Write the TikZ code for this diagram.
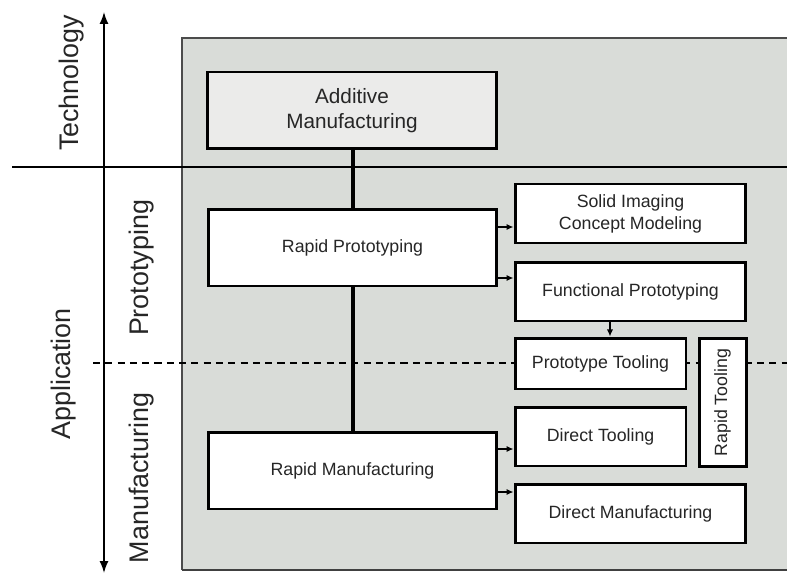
\documentclass[tikz,border=0pt]{standalone}
\usepackage{fontspec}
\setmainfont{Liberation Sans}
\usetikzlibrary{arrows.meta}
\definecolor{panelgrey}{HTML}{D9DCD8}
\definecolor{amgrey}{HTML}{EBEBEA}

\begin{document}
\begin{tikzpicture}[x=0.02cm, y=-0.02cm, >=Latex,
		box/.style={draw, line width=1.7pt, fill=white, inner sep=0pt, align=center, text=black!85, font=\fontsize{10.1}{12.5}\selectfont},
		axislabel/.style={rotate=90, inner sep=0pt, text=black!85, font=\fontsize{15.3}{18}\selectfont},
		link/.style={-{Latex[length=4pt,width=3.6pt]}, line width=0.85pt}]
		\useasboundingbox (0,0) rectangle (787,574);
		% background panel and axes
		\fill[panelgrey] (182,38) rectangle (800,570);
		\draw[gray!60!black, line width=0.9pt] (800,38) -- (182,38) -- (182,570);
		\draw[black!75, line width=1.7pt] (182,570) -- (800,570);
		\draw[line width=0.85pt] (12,167) -- (787,167);
		\draw[dashed, line width=0.7pt, dash pattern=on 4pt off 3pt] (93,363) -- (787,363);
		\draw[<->, line width=0.85pt] (104,12) -- (104,573);
		\node[axislabel] (tech) at (72,83) {Technology};
		\node[axislabel] (appl) at (64,374) {Application};
		\node[axislabel] (proto) at (142,268) {Prototyping};
		\node[axislabel] (manu) at (142,478) {Manufacturing};
		% boxes
		\node[box, fill=amgrey, font=\fontsize{11.8}{14.2}\selectfont, minimum width=5.8cm, minimum height=1.54cm] (am) at (352,110.5) {Additive\\Manufacturing};
		\node[box, minimum width=5.78cm, minimum height=1.54cm] (rp) at (352.5,247.5) {Rapid Prototyping};
		\node[box, minimum width=5.78cm, minimum height=1.54cm] (rm) at (352.5,470.5) {Rapid Manufacturing};
		\node[box, minimum width=4.62cm, minimum height=1.18cm] (sic) at (630.5,213.5) {Solid Imaging\\Concept Modeling};
		\node[box, minimum width=4.62cm, minimum height=1.18cm] (fp) at (630.5,291.5) {Functional Prototyping};
		\node[box, minimum width=3.42cm, minimum height=1.02cm] (pt) at (600.5,363.5) {Prototype Tooling};
		\node[box, minimum width=3.42cm, minimum height=1.18cm] (dt) at (600.5,436.5) {Direct Tooling};
		\node[box, minimum width=4.62cm, minimum height=1.18cm] (dm) at (630.5,513.5) {Direct Manufacturing};
		\node[box, minimum width=0.94cm, minimum height=2.58cm] (rt) at (722.5,402.5) {\rotatebox{90}{Rapid Tooling}};
		% connectors
		\draw[line width=2.3pt] (am.south -| 353,0) -- (rp.north -| 353,0);
		\draw[line width=2.3pt] (rp.south -| 353,0) -- (rm.north -| 353,0);
		\draw[link] (rp.east |- 0,227) -- (sic.west |- 0,227);
		\draw[link] (rp.east |- 0,278) -- (fp.west |- 0,278);
		\draw[link] (fp.south -| 610,0) -- (pt.north -| 610,0);
		\draw[link] (rm.east |- 0,449) -- (dt.west |- 0,449);
		\draw[link] (rm.east |- 0,492) -- (dm.west |- 0,492);
	\end{tikzpicture}
\end{document}
